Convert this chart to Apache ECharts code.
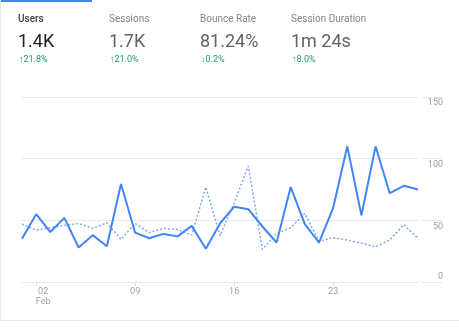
<!DOCTYPE html>
<html>
<head>
<meta charset="utf-8">
<script src="https://cdn.jsdelivr.net/npm/echarts@6/dist/echarts.min.js"></script>
<style>
html,body{margin:0;padding:0;background:#fff;}
#chart{width:459px;height:328px;}
</style>
</head>
<body>
<div id="chart"></div>
<script>
// Categories: days Feb 01 .. Mar 01
var days = ['01','02','03','04','05','06','07','08','09','10','11','12','13','14','15','16','17','18','19','20','21','22','23','24','25','26','27','28','01'];
var monthLabel = 'Feb';
var labelDays = ['02','09','16','23'];
var labelIdx = [1, 8, 15, 22];

// Series values
var users = [35, 55, 40.5, 52, 28, 38, 29, 79.5, 40, 35.5, 39, 37, 45.5, 27, 47.5, 61, 59, 45, 32, 77, 47, 32, 60, 110, 54, 110, 72, 78, 75];
var previous = [47, 42, 44, 46, 47.5, 43.5, 48, 34.5, 47.5, 40, 43.5, 42.5, 38, 77, 37.5, 64, 94, 26.5, 39.5, 44, 55.5, 33, 36, 34, 31.5, 28.5, 34, 46.5, 35.5];

// Y tick labels
var yTicks = [0, 50, 100, 150];

// Header metrics
var metricNames = ['Users', 'Sessions', 'Bounce Rate', 'Session Duration'];
var metricValues = ['1.4K', '1.7K', '81.24%', '1m 24s'];
var metricChanges = ['\u219121.8%', '\u219121.0%', '\u21930.2%', '\u21918.0%'];

var chart = echarts.init(document.getElementById('chart'), null, {renderer: 'canvas'});
var FONT = 'Roboto, "Noto Sans", sans-serif';
var metricX = [18, 109, 200, 291];

var graphics = [
  {type: 'rect', shape: {x: 0, y: 0, width: 92, height: 2}, style: {fill: '#4285f4'}},
  {type: 'rect', shape: {x: 0, y: 0, width: 1, height: 320}, style: {fill: '#e6e6e6'}},
  {type: 'rect', shape: {x: 0, y: 320, width: 459, height: 1}, style: {fill: '#e6e6e6'}}
];
metricNames.forEach(function (n, i) {
  graphics.push({type: 'text', x: metricX[i], y: 19.5, style: {text: n, fontSize: 10, fontFamily: FONT, fontWeight: i === 0 ? 500 : 400, fill: i === 0 ? '#3c4043' : '#80868b', verticalAlign: 'middle'}});
  graphics.push({type: 'text', x: metricX[i], y: 42, style: {text: metricValues[i], fontSize: 18, fontFamily: FONT, fill: i === 0 ? '#202124' : '#5f6368', verticalAlign: 'middle'}});
  graphics.push({type: 'text', x: metricX[i] + 1, y: 59.5, style: {text: metricChanges[i], fontSize: 9, fontFamily: FONT, fill: '#1e9e5a', verticalAlign: 'middle'}});
});

chart.setOption({
  animation: false,
  backgroundColor: '#fff',
  graphic: graphics,
  grid: [
    {left: 22, right: 41, top: 97, bottom: 46},
    {left: 421, right: 17, top: 97, bottom: 46}
  ],
  xAxis: [
    {
      type: 'category', data: days, boundaryGap: false, gridIndex: 0,
      axisLine: {show: true, lineStyle: {color: '#e8e8e8', width: 1}},
      axisTick: {show: true, length: 4, lineStyle: {color: '#dadada'}, interval: function (i) { return labelIdx.indexOf(i) >= 0; }},
      axisLabel: {
        interval: function (i) { return labelIdx.indexOf(i) >= 0; },
        color: '#9e9e9e', fontSize: 9, fontFamily: FONT, margin: 5, lineHeight: 10,
        formatter: function (v, i) {
          var k = labelIdx.indexOf(i);
          if (k === 0) return '{s| }{t|' + labelDays[k] + '}\n{s| }{t|' + monthLabel + '}';
          return labelDays[k] != null ? labelDays[k] : '';
        },
        rich: {s: {width: 14, fontSize: 9}, t: {fontSize: 9, color: '#9e9e9e', fontFamily: FONT, align: 'left', lineHeight: 10}}
      },
      splitLine: {show: false}
    },
    {type: 'value', gridIndex: 1, show: false, min: 0, max: 1}
  ],
  yAxis: [
    {
      type: 'value', gridIndex: 0, position: 'right', min: 0, max: 150, interval: 50,
      axisLine: {show: false}, axisTick: {show: false},
      splitLine: {show: true, lineStyle: {color: '#e8e8e8', width: 1}},
      axisLabel: {
        color: '#9e9e9e', fontSize: 9, fontFamily: FONT, align: 'right', margin: 25,
        formatter: function (v) { return v === yTicks[0] ? '{z|' + v + '}' : '{a|' + v + '}'; },
        rich: {a: {padding: [12, 0, 0, 0], fontSize: 9, color: '#9e9e9e', fontFamily: FONT}, z: {padding: [0, 0, 11, 0], fontSize: 9, color: '#9e9e9e', fontFamily: FONT}}
      }
    },
    {
      type: 'value', gridIndex: 1, min: 0, max: 150, interval: 50,
      axisLine: {show: false}, axisTick: {show: false}, axisLabel: {show: false},
      splitLine: {show: true, lineStyle: {color: '#e8e8e8', width: 1}}
    }
  ],
  series: [
    {
      name: 'Previous', type: 'line', data: previous, xAxisIndex: 0, yAxisIndex: 0,
      showSymbol: false, symbol: 'none',
      lineStyle: {color: '#7baaf7', width: 1.5, type: [2, 2]}, z: 2
    },
    {
      name: 'Users', type: 'line', data: users, xAxisIndex: 0, yAxisIndex: 0,
      showSymbol: false, symbol: 'none',
      lineStyle: {color: '#4285f4', width: 2}, z: 3
    }
  ]
});
</script>
</body>
</html>
